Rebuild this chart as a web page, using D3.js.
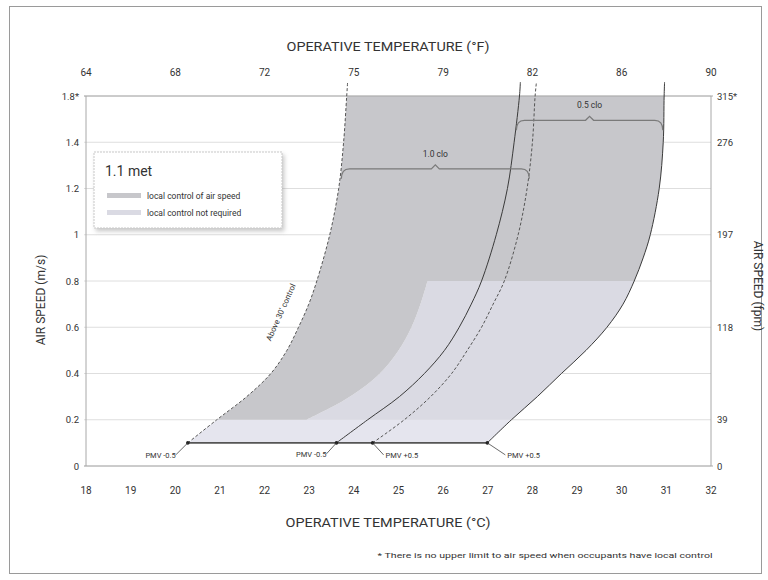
<!DOCTYPE html>
<html>
<head>
<meta charset="utf-8">
<script src="https://cdn.jsdelivr.net/npm/d3@7"></script>
<style>
  body { margin: 0; background: #fff; }
  text { font-family: Roboto, "Open Sans", sans-serif; fill: #333; }
</style>
</head>
<body>
<svg id="chart" width="768" height="580"></svg>
<script>
// ---- axis ticks ----
const tempTicksC = [18, 19, 20, 21, 22, 23, 24, 25, 26, 27, 28, 29, 30, 31, 32];
const fahrenheitAtC = [18, 20, 22, 24, 26, 28, 30, 32];
const fahrenheitLabels = ["64", "68", "72", "75", "79", "82", "86", "90"];
const speedTicks = [0, 0.2, 0.4, 0.6, 0.8, 1.0, 1.2, 1.4, 1.6];
const speedLabels = ["0", "0.2", "0.4", "0.6", "0.8", "1", "1.2", "1.4", "1.8*"];
const fpmAt = [0, 0.2, 0.6, 1.0, 1.4, 1.6];
const fpmLabels = ["0", "39", "118", "197", "276", "315*"];

// ---- PMV boundary curves: [operative temperature °C, air speed m/s] ----
const pmvLow10 = [[20.28, 0.1], [20.93, 0.2], [21.60, 0.3], [22.14, 0.4], [22.50, 0.5], [22.76, 0.6],
  [22.99, 0.7], [23.17, 0.8], [23.46, 1.0], [23.66, 1.2], [23.77, 1.4], [23.84, 1.6], [23.86, 1.66]];
const pmvLow05 = [[23.61, 0.1], [24.31, 0.2], [25.02, 0.3], [25.58, 0.4], [26.03, 0.5], [26.36, 0.6],
  [26.63, 0.7], [26.86, 0.8], [27.19, 1.0], [27.44, 1.2], [27.59, 1.4], [27.71, 1.6], [27.73, 1.66]];
const pmvHigh10 = [[24.42, 0.1], [25.13, 0.2], [25.72, 0.3], [26.19, 0.4], [26.54, 0.5], [26.86, 0.6],
  [27.12, 0.7], [27.37, 0.8], [27.68, 1.0], [27.88, 1.2], [28.00, 1.4], [28.06, 1.6], [28.09, 1.66]];
const pmvHigh05 = [[26.99, 0.1], [27.53, 0.2], [28.11, 0.3], [28.65, 0.4], [29.20, 0.5], [29.67, 0.6],
  [30.03, 0.7], [30.28, 0.8], [30.48, 0.9], [30.64, 1.0], [30.84, 1.2], [30.93, 1.4], [30.95, 1.6], [30.96, 1.66]];
// edge of the zone where local control is not required (0.2 to 0.8 m/s)
const noControlEdge = [[22.94, 0.2], [23.79, 0.285], [24.53, 0.39], [25.00, 0.5], [25.29, 0.6], [25.51, 0.71], [25.65, 0.8]];

const stillAirSpeed = 0.1;
const upperSpeed = 1.6;
const controlSplit = 0.8;
const bandTop = 0.2;

const pmvLabels = [
  { text: "PMV -0.5", at: 20.28, dx: -52, dy: 15 },
  { text: "PMV -0.5", at: 23.61, dx: -50, dy: 14 },
  { text: "PMV +0.5", at: 24.42, dx: 13, dy: 15 },
  { text: "PMV +0.5", at: 26.99, dx: 20, dy: 15 }
];
const cloBrackets = [
  { label: "1.0 clo", from: 23.72, to: 27.93, speed: 1.285 },
  { label: "0.5 clo", from: 27.64, to: 30.92, speed: 1.495 }
];
const legendItems = ["local control of air speed", "local control not required"];

// ---- layout ----
const svg = d3.select("#chart");
const x = d3.scaleLinear().domain([18, 32]).range([86, 711]);
const y = d3.scaleLinear().domain([0, 1.6]).range([466, 96]);

const colors = { dark: "#c7c7cb", light: "#dadae3", band: "#e5e5ee", grid: "#dedede", axis: "#a8a8a8", line: "#3a3a3a" };

const defs = svg.append("defs");
const shadow = defs.append("filter").attr("id", "shadow").attr("x", "-10%").attr("y", "-10%").attr("width", "130%").attr("height", "140%");
shadow.append("feDropShadow").attr("dx", 2).attr("dy", 3).attr("stdDeviation", 2)
  .attr("flood-color", "#888").attr("flood-opacity", 0.45);

// outer frame
svg.append("rect").attr("x", 9.5).attr("y", 6.5).attr("width", 752).attr("height", 567)
  .attr("fill", "#fff").attr("stroke", "#9a9a9a");

// ---- filled zones ----
const line = d3.line().x(d => x(d[0])).y(d => y(d[1])).curve(d3.curveCatmullRom.alpha(0.5));
const within = (pts, lo, hi) => pts.filter(d => d[1] >= lo - 1e-9 && d[1] <= hi + 1e-9);
const region = pieces => pieces.map((p, i) => i ? line(p).replace(/^M/, "L") : line(p)).join("") + "Z";

// horizontal grid
svg.append("g").selectAll("line").data(speedTicks).join("line")
  .attr("x1", x(18) - 2).attr("x2", x(32)).attr("y1", d => y(d)).attr("y2", d => y(d))
  .attr("stroke", colors.grid).attr("stroke-width", 1);

const zones = svg.append("g");
zones.append("path")
  .attr("d", region([within(pmvLow10, stillAirSpeed, bandTop), within(pmvHigh05, stillAirSpeed, bandTop).reverse()]))
  .attr("fill", colors.band);
zones.append("path")
  .attr("d", region([noControlEdge, within(pmvHigh05, bandTop, controlSplit).reverse()]))
  .attr("fill", colors.light);
zones.append("path")
  .attr("d", region([within(pmvLow10, bandTop, upperSpeed), within(pmvHigh05, controlSplit, upperSpeed).reverse(), noControlEdge.slice().reverse()]))
  .attr("fill", colors.dark);

// plot frame
const frame = svg.append("g").attr("stroke", colors.axis).attr("fill", "none");
frame.append("line").attr("x1", x(18)).attr("x2", x(18)).attr("y1", y(1.6)).attr("y2", y(0));
frame.append("line").attr("x1", x(32)).attr("x2", x(32)).attr("y1", y(1.6)).attr("y2", y(0));
frame.append("line").attr("x1", x(18) - 2).attr("x2", x(32) + 2).attr("y1", y(1.6)).attr("y2", y(1.6));
frame.append("line").attr("x1", x(18) - 2).attr("x2", x(32) + 2).attr("y1", y(0)).attr("y2", y(0));

// ---- PMV curves ----
const curves = svg.append("g").attr("fill", "none");
curves.append("path").attr("d", line(pmvLow10)).attr("stroke", "#555").attr("stroke-width", 1).attr("stroke-dasharray", "3,2");
curves.append("path").attr("d", line(pmvLow05)).attr("stroke", colors.line).attr("stroke-width", 1);
curves.append("path").attr("d", line(pmvHigh10)).attr("stroke", "#555").attr("stroke-width", 1).attr("stroke-dasharray", "3,2");
curves.append("path").attr("d", line(pmvHigh05)).attr("stroke", colors.line).attr("stroke-width", 1);

// still-air baseline
svg.append("line")
  .attr("x1", x(pmvLow10[0][0])).attr("x2", x(pmvHigh05[0][0]))
  .attr("y1", y(stillAirSpeed)).attr("y2", y(stillAirSpeed))
  .attr("stroke", "#555").attr("stroke-width", 1.8);

// PMV labels with leaders
const pl = svg.append("g");
pmvLabels.forEach(d => {
  const px = x(d.at), py = y(stillAirSpeed);
  pl.append("circle").attr("cx", px).attr("cy", py).attr("r", 1.8).attr("fill", "#222");
  const lx = px + d.dx, ly = py + d.dy;
  const right = d.dx > 0;
  pl.append("line").attr("x1", px).attr("y1", py)
    .attr("x2", right ? lx - 2 : lx + 40).attr("y2", ly - 3)
    .attr("stroke", "#444").attr("stroke-width", 0.8);
  pl.append("text").attr("x", right ? lx : lx + 40).attr("y", ly)
    .attr("text-anchor", right ? "start" : "end")
    .attr("font-size", 7.5).text(d.text);
});

// annotation along the 1.0 clo lower curve
svg.append("text")
  .attr("transform", `translate(${x(22.42)},${y(0.66)}) rotate(-66)`)
  .attr("text-anchor", "middle").attr("font-size", 8)
  .text("Above 30' control");

// clo brackets
const br = svg.append("g");
cloBrackets.forEach(b => {
  const x1 = x(b.from), x2 = x(b.to), yy = y(b.speed), xc = (x1 + x2) / 2;
  br.append("path")
    .attr("d", `M${x1},${yy + 10} Q${x1},${yy} ${x1 + 8},${yy} H${xc - 4} L${xc},${yy - 4} L${xc + 4},${yy} H${x2 - 8} Q${x2},${yy} ${x2},${yy + 10}`)
    .attr("fill", "none").attr("stroke", "#7a7a7a").attr("stroke-width", 1.2);
  br.append("text").attr("x", xc).attr("y", yy - 12).attr("text-anchor", "middle")
    .attr("font-size", 8.5).text(b.label);
});

// ---- axes ----
const ax = svg.append("g");
ax.selectAll(".tc").data(tempTicksC).join("text")
  .attr("x", d => x(d)).attr("y", 494).attr("text-anchor", "middle").attr("font-size", 10).text(d => d);
ax.selectAll(".tf").data(fahrenheitAtC).join("text")
  .attr("x", d => x(d)).attr("y", 76).attr("text-anchor", "middle").attr("font-size", 10)
  .text((d, i) => fahrenheitLabels[i]);
ax.selectAll(".sl").data(speedTicks).join("text")
  .attr("x", 79).attr("y", d => y(d) + 3.5).attr("text-anchor", "end").attr("font-size", 9.5)
  .text((d, i) => speedLabels[i]);
ax.selectAll(".sr").data(fpmAt).join("text")
  .attr("x", 717).attr("y", d => y(d) + 3.5).attr("text-anchor", "start").attr("font-size", 9.5)
  .text((d, i) => fpmLabels[i]);

svg.append("text").attr("x", 388).attr("y", 51).attr("text-anchor", "middle")
  .attr("font-size", 12.5).attr("textLength", 203).attr("lengthAdjust", "spacingAndGlyphs")
  .text("OPERATIVE TEMPERATURE (°F)");
svg.append("text").attr("x", 388).attr("y", 527).attr("text-anchor", "middle")
  .attr("font-size", 12.5).attr("textLength", 205).attr("lengthAdjust", "spacingAndGlyphs")
  .text("OPERATIVE TEMPERATURE (°C)");
svg.append("text").attr("transform", "translate(45,300) rotate(-90)").attr("text-anchor", "middle")
  .attr("font-size", 12).text("AIR SPEED (m/s)");
svg.append("text").attr("transform", "translate(754,286) rotate(90)").attr("text-anchor", "middle")
  .attr("font-size", 12).text("AIR SPEED (fpm)");
svg.append("text").attr("x", 545).attr("y", 558).attr("text-anchor", "middle")
  .attr("font-size", 7).attr("textLength", 335).attr("lengthAdjust", "spacingAndGlyphs")
  .text("* There is no upper limit to air speed when occupants have local control");

// ---- legend ----
const lg = svg.append("g").attr("transform", "translate(94,152)");
lg.append("rect").attr("width", 188).attr("height", 76).attr("fill", "#fff")
  .attr("stroke", "#c8c8c8").attr("stroke-dasharray", "2,1").attr("filter", "url(#shadow)");
lg.append("text").attr("x", 11).attr("y", 24).attr("font-size", 14).text("1.1 met");
legendItems.forEach((t, i) => {
  lg.append("rect").attr("x", 13).attr("y", 41 + i * 17).attr("width", 34).attr("height", 5)
    .attr("fill", i === 0 ? colors.dark : colors.light);
  lg.append("text").attr("x", 53).attr("y", 47 + i * 17).attr("font-size", 8.5).text(t);
});
</script>
</body>
</html>
